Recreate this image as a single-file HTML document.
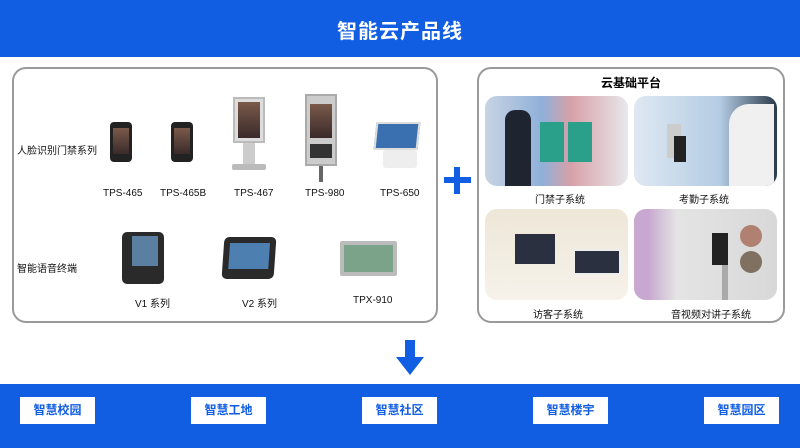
<!DOCTYPE html>
<html><head><meta charset="utf-8"><style>
*{margin:0;padding:0;box-sizing:border-box}
body{width:800px;height:448px;position:relative;background:#fff;font-family:"Liberation Sans","Noto Sans CJK SC",sans-serif;overflow:hidden}
.a{position:absolute}
.hdr{left:0;top:0;width:800px;height:57px;background:#115ee3;color:#fff;font-size:20px;font-weight:bold;text-align:center;line-height:64px;letter-spacing:1px}
.panel{border:2px solid #9a9a9a;border-radius:14px;background:#fff}
.t{font-size:10px;color:#111;white-space:nowrap}
.dev{background:#222;border-radius:4px}
.scr{background:linear-gradient(#7a5a4a,#3a2a2a)}
.ph{border-radius:12px;overflow:hidden}
.bot{left:0;top:384px;width:800px;height:64px;background:#115ee3}
.btn{top:397px;width:75px;height:27px;background:#fff;color:#115ee3;font-size:12px;font-weight:bold;text-align:center;line-height:27px}
</style></head><body>
<div class="a hdr">智能云产品线</div>

<div class="a panel" style="left:12px;top:67px;width:426px;height:256px"></div>
<div class="a t" style="left:17px;top:142px">人脸识别门禁系列</div>
<div class="a t" style="left:17px;top:260px">智能语音终端</div>

<!-- devices row1 -->
<div class="a dev" style="left:110px;top:122px;width:22px;height:40px"><div class="a scr" style="left:3px;top:6px;width:16px;height:26px"></div></div>
<div class="a t" style="left:103px;top:188px">TPS-465</div>
<div class="a dev" style="left:171px;top:122px;width:22px;height:40px"><div class="a scr" style="left:3px;top:6px;width:16px;height:26px"></div></div>
<div class="a t" style="left:160px;top:188px">TPS-465B</div>
<div class="a" style="left:233px;top:97px;width:32px;height:46px;background:#ddd;border:2px solid #bbb"><div class="a scr" style="left:3px;top:3px;width:22px;height:36px"></div></div>
<div class="a" style="left:243px;top:143px;width:12px;height:22px;background:#ccc"></div>
<div class="a" style="left:232px;top:164px;width:34px;height:6px;background:#bbb;border-radius:2px"></div>
<div class="a t" style="left:234px;top:188px">TPS-467</div>
<div class="a" style="left:305px;top:94px;width:32px;height:72px;background:#ccc;border:2px solid #aaa"><div class="a scr" style="left:3px;top:8px;width:22px;height:34px"></div><div class="a" style="left:3px;top:48px;width:22px;height:14px;background:#333"></div></div>
<div class="a" style="left:319px;top:166px;width:4px;height:16px;background:#666"></div>
<div class="a t" style="left:305px;top:188px">TPS-980</div>
<div class="a" style="left:375px;top:122px;width:44px;height:28px;background:#3a6fb0;border:2px solid #ddd;transform:skewX(-6deg)"></div>
<div class="a" style="left:383px;top:150px;width:34px;height:18px;background:#eee;border-radius:3px"></div>
<div class="a t" style="left:380px;top:188px">TPS-650</div>

<!-- row2 -->
<div class="a" style="left:122px;top:232px;width:42px;height:52px;background:#2a2a2a;border-radius:5px"><div class="a" style="left:10px;top:4px;width:26px;height:30px;background:#5a7fa0"></div></div>
<div class="a t" style="left:135px;top:295px">V1 系列</div>
<div class="a" style="left:223px;top:237px;width:52px;height:42px;background:#2a2a2a;border-radius:5px;transform:skewX(-4deg)"><div class="a" style="left:6px;top:6px;width:40px;height:26px;background:#4d7fb0"></div></div>
<div class="a t" style="left:242px;top:295px">V2 系列</div>
<div class="a" style="left:340px;top:241px;width:57px;height:35px;background:#bbb;border-radius:2px"><div class="a" style="left:4px;top:4px;width:49px;height:27px;background:#7aa38a"></div></div>
<div class="a t" style="left:353px;top:295px">TPX-910</div>

<!-- plus -->
<div class="a" style="left:444px;top:177px;width:27px;height:6px;background:#115ee3"></div>
<div class="a" style="left:454px;top:167px;width:6px;height:27px;background:#115ee3"></div>

<div class="a panel" style="left:477px;top:67px;width:308px;height:256px"></div>
<div class="a" style="left:477px;top:74px;width:308px;text-align:center;font-size:12px;font-weight:bold">云基础平台</div>
<div class="a ph" style="left:485px;top:96px;width:143px;height:90px;background:linear-gradient(90deg,#c8d4e4,#8fb0d8 40%,#d8a0a8 60%,#e8e8ec)"><div class="a" style="left:20px;top:14px;width:26px;height:76px;background:#1e2430;border-radius:10px 10px 0 0"></div><div class="a" style="left:55px;top:26px;width:24px;height:40px;background:#2aa08a"></div><div class="a" style="left:83px;top:26px;width:24px;height:40px;background:#2aa08a"></div></div>
<div class="a ph" style="left:634px;top:96px;width:143px;height:90px;background:linear-gradient(90deg,#dfe8f2,#b4cce4 60%,#2a3a4a)"><div class="a" style="left:33px;top:28px;width:14px;height:34px;background:#ccc"></div><div class="a" style="left:40px;top:40px;width:12px;height:26px;background:#222"></div><div class="a" style="left:95px;top:8px;width:45px;height:82px;background:#f0f0f0;border-radius:20px 0 0 0"></div></div>
<div class="a t" style="left:535px;top:191px">门禁子系统</div>
<div class="a t" style="left:679px;top:191px">考勤子系统</div>
<div class="a ph" style="left:485px;top:209px;width:143px;height:91px;background:linear-gradient(#eee7d8,#f6f2ea)"><div class="a" style="left:30px;top:25px;width:40px;height:30px;background:#2a3040"></div><div class="a" style="left:88px;top:40px;width:48px;height:26px;background:#2a3040;border:2px solid #eee"></div></div>
<div class="a ph" style="left:634px;top:209px;width:143px;height:91px;background:linear-gradient(90deg,#c8a8d0 10%,#e4e4e4 30%,#d8d8d8)"><div class="a" style="left:78px;top:24px;width:16px;height:32px;background:#222"></div><div class="a" style="left:88px;top:56px;width:6px;height:35px;background:#aaa"></div><div class="a" style="left:106px;top:16px;width:22px;height:22px;background:#b08070;border-radius:50%"></div><div class="a" style="left:106px;top:42px;width:22px;height:22px;background:#807060;border-radius:50%"></div></div>
<div class="a t" style="left:533px;top:306px">访客子系统</div>
<div class="a t" style="left:671px;top:306px">音视频对讲子系统</div>

<!-- arrow -->
<div class="a" style="left:405px;top:340px;width:10px;height:18px;background:#115ee3"></div>
<div class="a" style="left:396px;top:357px;width:0;height:0;border-left:14px solid transparent;border-right:14px solid transparent;border-top:18px solid #115ee3"></div>

<div class="a bot"></div>
<div class="a btn" style="left:20px">智慧校园</div>
<div class="a btn" style="left:191px">智慧工地</div>
<div class="a btn" style="left:362px">智慧社区</div>
<div class="a btn" style="left:533px">智慧楼宇</div>
<div class="a btn" style="left:704px">智慧园区</div>
</body></html>
